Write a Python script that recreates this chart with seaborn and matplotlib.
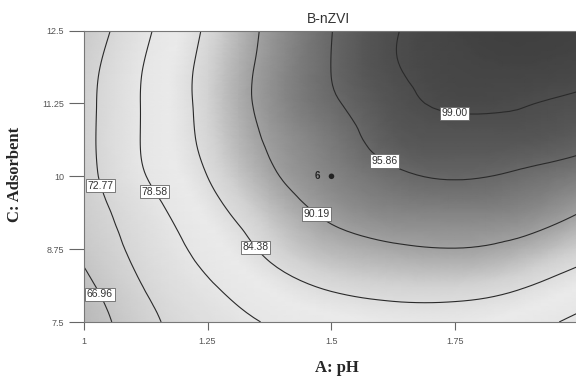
import numpy as np
import matplotlib
matplotlib.use("Agg")
import matplotlib.pyplot as plt
import matplotlib.tri as mtri
from matplotlib.colors import LinearSegmentedColormap
import seaborn as sns

# response surface (rows = adsorbent, cols = pH)
ph = [1.0, 1.125, 1.25, 1.375, 1.5, 1.625, 1.75, 1.875, 2.0]
adsorbent = [7.5, 8.125, 8.75, 9.375, 10.0, 10.625, 11.25, 11.875, 12.5]
removal = [
    [62.5, 71.3, 75.8, 79.0, 81.0, 82.3, 82.4, 80.8, 77.3],
    [65.3, 73.1, 78.0, 82.2, 85.0, 86.0, 86.1, 84.9, 82.0],
    [68.2, 74.8, 80.3, 85.3, 88.3, 89.6, 90.1, 89.0, 86.3],
    [69.9, 76.3, 82.5, 87.4, 91.0, 92.8, 93.1, 92.7, 90.2],
    [70.7, 78.5, 84.4, 89.5, 92.9, 95.2, 96.1, 95.4, 93.9],
    [71.0, 79.2, 85.5, 90.7, 94.1, 97.2, 97.8, 97.8, 96.9],
    [70.9, 79.2, 85.9, 91.6, 95.4, 98.1, 99.4, 99.2, 98.5],
    [70.4, 78.9, 85.8, 91.5, 95.9, 98.8, 100.0, 100.3, 99.9],
    [68.8, 77.7, 85.1, 91.1, 95.8, 98.8, 100.3, 100.8, 100.5],
]
levels = [66.96, 72.77, 78.58, 84.38, 90.19, 95.86, 99.00]

x_ticks = [1, 1.25, 1.5, 1.75, 2]
x_ticklabels = ["1", "1.25", "1.5", "1.75", "2"]
y_ticks = [7.5, 8.75, 10, 11.25, 12.5]
y_ticklabels = ["7.5", "8.75", "10", "11.25", "12.5"]

design_ph = [1.5]
design_ads = [10.0]
design_n = ["6"]

sns.set_style("white")
plt.rcParams["font.family"] = ["Liberation Sans", "DejaVu Sans"]

# grey scale like the Design-Expert print (light around 80, dark at the top)
stops = [(60, 0.70), (66, 0.76), (72, 0.83), (78, 0.90), (82, 0.92),
         (86, 0.83), (90, 0.64), (94, 0.48), (98, 0.33), (102, 0.22)]
vmin, vmax = 60, 102
cmap = LinearSegmentedColormap.from_list(
    "dx_grey", [((v - vmin) / (vmax - vmin), (g, g, g)) for v, g in stops])

X, Y = np.meshgrid(ph, adsorbent)
Z = np.array(removal)

# smooth the read grid for drawing
tri = mtri.Triangulation(X.ravel(), Y.ravel())
interp = mtri.CubicTriInterpolator(tri, Z.ravel(), kind="min_E")
refiner = mtri.UniformTriRefiner(tri)
tri_f, z_f = refiner.refine_field(Z.ravel(), triinterpolator=interp, subdiv=3)

fig = plt.figure(figsize=(5.76, 3.76), dpi=100)
ax = fig.add_axes([0.145, 0.1436, 0.861, 0.775])

ax.tripcolor(tri_f, z_f, cmap=cmap, vmin=vmin, vmax=vmax, shading="gouraud")
cs = ax.tricontour(tri_f, z_f, levels=levels, colors="#2a2a2a", linewidths=0.8)

label_pos = [(1.035, 7.98), (1.039, 9.85), (1.142, 9.73), (1.348, 8.79),
             (1.473, 9.39), (1.61, 10.31), (1.749, 11.12)]
texts = ax.clabel(cs, fmt="%.2f", inline=False, manual=label_pos, fontsize=7.5,
                  colors="#333333")
for t in texts:
    t.set_rotation(0)
    t.set_bbox(dict(boxstyle="square,pad=0.15", facecolor="white",
                    edgecolor="#666666", linewidth=0.6))

sns.scatterplot(x=design_ph, y=design_ads, ax=ax, color="#222222", s=16,
                edgecolor="none", legend=False, zorder=5)
for px, py, n in zip(design_ph, design_ads, design_n):
    ax.annotate(n, (px, py), xytext=(-8, 0), textcoords="offset points",
                ha="right", va="center", fontsize=7, fontweight="bold",
                color="#222222")

ax.set_xlim(1, 2)
ax.set_ylim(7.5, 12.5)
ax.set_xticks(x_ticks)
ax.set_xticklabels(x_ticklabels)
ax.set_yticks(y_ticks)
ax.set_yticklabels(y_ticklabels)
ax.tick_params(axis="y", length=11, width=0.8, color="#666666",
               labelsize=6.5, labelcolor="#555555", pad=3, left=True)
ax.tick_params(axis="x", length=6, width=0.8, color="#666666",
               labelsize=6.5, labelcolor="#555555", pad=5, bottom=True)
for s in ax.spines.values():
    s.set_color("#777777")
    s.set_linewidth(0.8)

fig.text(0.571, 0.949, "B-nZVI", ha="center", va="center", fontsize=10,
         color="#333333")
fig.text(0.026, 0.535, "C: Adsorbent", rotation=90, ha="center", va="center",
         fontsize=12, fontweight="bold", family=["Liberation Serif", "DejaVu Serif"])
fig.text(0.584, 0.021, "A: pH", ha="center", va="center", fontsize=12,
         fontweight="bold", family=["Liberation Serif", "DejaVu Serif"])

fig.savefig("out.png", dpi=100)
